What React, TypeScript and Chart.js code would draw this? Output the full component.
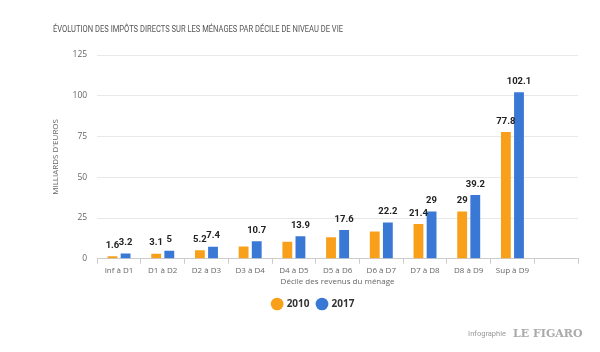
import React, { useEffect, useRef } from "react";
import { Chart, registerables } from "chart.js";

Chart.register(...registerables);

const categories = ["Inf à D1", "D1 à D2", "D2 à D3", "D3 à D4", "D4 à D5", "D5 à D6", "D6 à D7", "D7 à D8", "D8 à D9", "Sup à D9", ""];
const values2010 = [1.6, 3.1, 5.2, 7.5, 10.5, 13.2, 16.7, 21.4, 29, 77.8, null];
const values2017 = [3.2, 5, 7.4, 10.7, 13.9, 17.6, 22.2, 29, 39.2, 102.1, null];
const showLabel2010 = [true, true, true, false, false, false, false, true, true, true, false];
const showLabel2017 = [true, true, true, true, true, true, true, true, true, true, false];
const yTicks = [0, 25, 50, 75, 100, 125];

const TITLE = "ÉVOLUTION DES IMPÔTS DIRECTS SUR LES MÉNAGES PAR DÉCILE DE NIVEAU DE VIE";
const ORANGE = "#f9a01b";
const BLUE = "#3a78d6";

const overlayPlugin = {
  id: "overlay",
  afterDatasetsDraw(chart: any) {
    const ctx = chart.ctx;
    ctx.save();
    ctx.textAlign = "center";
    ctx.textBaseline = "bottom";
    ctx.fillStyle = "#222";
    ctx.font = "bold 9.5px 'Roboto'";
    const flags = [showLabel2010, showLabel2017];
    chart.data.datasets.forEach((ds: any, di: number) => {
      const meta = chart.getDatasetMeta(di);
      meta.data.forEach((bar: any, i: number) => {
        const v = ds.data[i];
        if (v == null || !flags[di][i]) return;
        ctx.fillText(String(v), bar.x, bar.y - 6);
      });
    });
    ctx.restore();
  },
  afterDraw(chart: any) {
    const ctx = chart.ctx;
    ctx.save();
    ctx.fillStyle = "#555";
    ctx.textAlign = "left";
    ctx.textBaseline = "middle";
    ctx.font = "9.5px 'Roboto'";
    const w = ctx.measureText(TITLE).width;
    ctx.translate(53, 30);
    ctx.scale(290 / w, 1);
    ctx.fillText(TITLE, 0, 0);
    ctx.restore();
    ctx.save();
    ctx.textBaseline = "middle";
    ctx.fillStyle = "#999";
    ctx.font = "7.5px 'Roboto'";
    ctx.textAlign = "right";
    ctx.fillText("Infographie", 506, 334);
    ctx.fillStyle = "#aaa";
    ctx.font = "bold 11px 'DejaVu Serif'";
    ctx.textAlign = "left";
    ctx.fillText("LE FIGARO", 513, 334);
    ctx.restore();
  },
};

export default function App() {
  const ref = useRef<HTMLCanvasElement>(null);
  useEffect(() => {
    const chart = new Chart(ref.current!, {
      type: "bar",
      data: {
        labels: categories,
        datasets: [
          { label: "2010", data: values2010, backgroundColor: ORANGE, borderWidth: 0 },
          { label: "2017", data: values2017, backgroundColor: BLUE, borderWidth: 0 },
        ],
      },
      options: {
        animation: false,
        responsive: false,
        maintainAspectRatio: false,
        layout: { padding: { top: 55, left: 49, right: 22, bottom: 33 } },
        datasets: { bar: { categoryPercentage: 0.6, barPercentage: 0.75 } },
        plugins: {
          title: { display: false },
          tooltip: { enabled: false },
          legend: {
            position: "bottom",
            labels: {
              usePointStyle: true,
              pointStyle: "circle",
              boxWidth: 9,
              boxHeight: 9,
              padding: 8,
              color: "#333",
              font: { family: "'Open Sans'", size: 10, weight: "bold" },
            },
          },
        },
        scales: {
          x: {
            grid: { drawOnChartArea: false, offset: true, tickLength: 5, color: "#ccc" },
            border: { color: "#ccc" },
            ticks: { color: "#666", font: { family: "'Open Sans'", size: 8 }, maxRotation: 0, autoSkip: false, padding: 2 },
            title: { display: true, text: "Décile des revenus du ménage", color: "#666", font: { family: "'Open Sans'", size: 8 }, padding: { top: 0, bottom: 4 } },
          },
          y: {
            min: 0,
            max: 125,
            afterBuildTicks: (axis: any) => { axis.ticks = yTicks.map((v) => ({ value: v })); },
            grid: { color: "#e8e8e8", drawTicks: false },
            border: { display: false },
            ticks: { color: "#666", font: { family: "'Open Sans'", size: 8.5 }, padding: 10 },
            title: { display: true, text: "MILLIARDS D'EUROS", color: "#666", font: { family: "'Open Sans'", size: 8 }, padding: 2 },
          },
        },
      },
      plugins: [overlayPlugin],
    });
    return () => chart.destroy();
  }, []);
  return (
    <div style={{ position: "fixed", left: 0, top: 0, width: 600, height: 352, background: "#fff" }}>
      <canvas ref={ref} width={600} height={352} />
    </div>
  );
}
